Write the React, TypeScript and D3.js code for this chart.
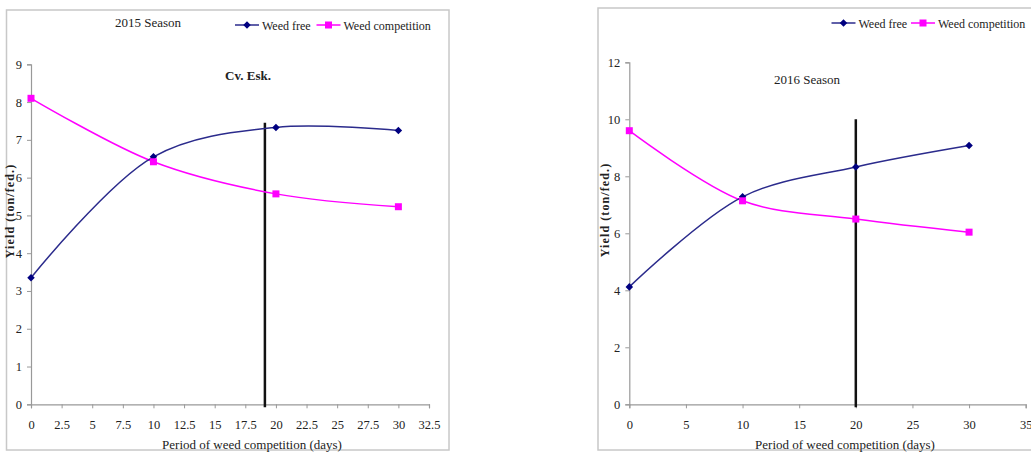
import React, { useEffect, useRef } from "react";
import * as d3 from "d3";

// days of weed competition
const days = [0, 10, 20, 30];

// 2015 season yields (ton/fed.)
const weedFree2015 = [3.35, 6.55, 7.33, 7.25];
const weedComp2015 = [8.1, 6.42, 5.57, 5.23];
const xTicks2015 = [0, 2.5, 5, 7.5, 10, 12.5, 15, 17.5, 20, 22.5, 25, 27.5, 30, 32.5];
const yTicks2015 = [0, 1, 2, 3, 4, 5, 6, 7, 8, 9];
const critical2015 = { day: 19.1, top: 7.45 };

// 2016 season yields (ton/fed.)
const weedFree2016 = [4.12, 7.28, 8.33, 9.08];
const weedComp2016 = [9.6, 7.14, 6.5, 6.04];
const xTicks2016 = [0, 5, 10, 15, 20, 25, 30, 35];
const yTicks2016 = [0, 2, 4, 6, 8, 10, 12];
const critical2016 = { day: 20, top: 10 };

const seriesNames = ["Weed free", "Weed competition"];

const FONT = "'Liberation Serif', 'Times New Roman', serif";
const BLUE_LINE = "#2b2b8c";
const BLUE_MARK = "#000080";
const PINK = "#ff00ff";

function drawPanel(svg, cfg) {
  const g = svg.append("g");

  // chart frame
  g.append("rect")
    .attr("x", cfg.frame.x)
    .attr("y", cfg.frame.y)
    .attr("width", cfg.frame.w)
    .attr("height", cfg.frame.h)
    .attr("fill", "white")
    .attr("stroke", "#c8c8c8")
    .attr("stroke-width", 1.5);

  const x = d3.scaleLinear().domain(cfg.xDomain).range(cfg.xRange);
  const y = d3.scaleLinear().domain(cfg.yDomain).range(cfg.yRange);

  const xAxisG = g.append("g")
    .attr("transform", `translate(0,${cfg.yRange[0]})`)
    .call(d3.axisBottom(x).tickValues(cfg.xTicks).tickSize(4).tickPadding(12).tickFormat(d3.format("")));
  const yAxisG = g.append("g")
    .attr("transform", `translate(${cfg.xRange[0]},0)`)
    .call(d3.axisLeft(y).tickValues(cfg.yTicks).tickSize(4).tickPadding(5).tickFormat(d3.format("")));

  [xAxisG, yAxisG].forEach((a) => {
    a.select(".domain").attr("stroke", "#999").attr("stroke-width", 1.2);
    a.selectAll(".tick line").attr("stroke", "#999");
    a.selectAll(".tick text")
      .attr("fill", "#222")
      .style("font-family", FONT)
      .style("font-size", "12.5px");
  });

  // axis titles
  g.append("text")
    .attr("x", cfg.xTitle[0])
    .attr("y", cfg.xTitle[1])
    .attr("text-anchor", "middle")
    .style("font-family", FONT)
    .style("font-size", "13px")
    .attr("fill", "#222")
    .text("Period of weed competition (days)");
  g.append("text")
    .attr("transform", `translate(${cfg.yTitle[0]},${cfg.yTitle[1]}) rotate(-90)`)
    .attr("text-anchor", "middle")
    .style("font-family", FONT)
    .style("font-size", "12px")
    .style("font-weight", "bold")
    .style("letter-spacing", "1.1px")
    .attr("fill", "#222")
    .text("Yield (ton/fed.)");

  // critical period line
  g.append("line")
    .attr("x1", x(cfg.critical.day))
    .attr("x2", x(cfg.critical.day))
    .attr("y1", y(0) + 3)
    .attr("y2", y(cfg.critical.top))
    .attr("stroke", "#111")
    .attr("stroke-width", 2.5);

  const line = d3.line()
    .x((d) => x(d[0]))
    .y((d) => y(d[1]))
    .curve(d3.curveCatmullRom.alpha(0.5));

  const freePts = days.map((d, i) => [d, cfg.free[i]]);
  const compPts = days.map((d, i) => [d, cfg.comp[i]]);

  g.append("path").datum(compPts).attr("d", line)
    .attr("fill", "none").attr("stroke", PINK).attr("stroke-width", 1.5);
  g.append("path").datum(freePts).attr("d", line)
    .attr("fill", "none").attr("stroke", BLUE_LINE).attr("stroke-width", 1.5);

  const diamond = d3.symbol().type(d3.symbolDiamond2 || d3.symbolDiamond).size(36);
  g.selectAll(".free-pt").data(freePts).enter().append("path")
    .attr("transform", (d) => `translate(${x(d[0])},${y(d[1])})`)
    .attr("d", diamond)
    .attr("fill", BLUE_MARK);
  g.selectAll(".comp-pt").data(compPts).enter().append("rect")
    .attr("x", (d) => x(d[0]) - 3.5)
    .attr("y", (d) => y(d[1]) - 3.5)
    .attr("width", 7)
    .attr("height", 7)
    .attr("fill", PINK);

  // legend
  const lg = g.append("g");
  const colors = [BLUE_LINE, PINK];
  cfg.legend.forEach((lx, i) => {
    const ly = cfg.legendY;
    lg.append("line")
      .attr("x1", lx).attr("x2", lx + 24).attr("y1", ly).attr("y2", ly)
      .attr("stroke", colors[i]).attr("stroke-width", 1.5);
    if (i === 0) {
      lg.append("path").attr("transform", `translate(${lx + 12},${ly})`)
        .attr("d", diamond).attr("fill", BLUE_MARK);
    } else {
      lg.append("rect").attr("x", lx + 8.5).attr("y", ly - 3.5)
        .attr("width", 7).attr("height", 7).attr("fill", PINK);
    }
    lg.append("text")
      .attr("x", lx + 27)
      .attr("y", ly + 4.5)
      .style("font-family", FONT)
      .style("font-size", "12px")
      .attr("fill", "#222")
      .text(seriesNames[i]);
  });

  cfg.notes.forEach((n) => {
    g.append("text")
      .attr("x", n.x)
      .attr("y", n.y)
      .attr("text-anchor", "middle")
      .style("font-family", FONT)
      .style("font-size", "13px")
      .style("font-weight", n.bold ? "bold" : "normal")
      .attr("fill", "#222")
      .text(n.text);
  });
}

export default function App() {
  const ref = useRef(null);

  useEffect(() => {
    const svg = d3.select(ref.current);
    svg.selectAll("*").remove();

    drawPanel(svg, {
      frame: { x: 6.5, y: 10, w: 442.5, h: 440 },
      xDomain: [0, 32.5],
      xRange: [31, 429],
      yDomain: [0, 9],
      yRange: [404.3, 64.3],
      xTicks: xTicks2015,
      yTicks: yTicks2015,
      free: weedFree2015,
      comp: weedComp2015,
      critical: critical2015,
      xTitle: [252, 449],
      yTitle: [14, 211],
      legend: [235, 316.5],
      legendY: 25,
      notes: [
        { text: "2015 Season", x: 148, y: 27, bold: false },
        { text: "Cv. Esk.", x: 248, y: 80, bold: true },
      ],
    });

    drawPanel(svg, {
      frame: { x: 598, y: 8, w: 440, h: 442 },
      xDomain: [0, 35],
      xRange: [629.3, 1025.7],
      yDomain: [0, 12],
      yRange: [404.3, 62.3],
      xTicks: xTicks2016,
      yTicks: yTicks2016,
      free: weedFree2016,
      comp: weedComp2016,
      critical: critical2016,
      xTitle: [845, 449],
      yTitle: [609, 210],
      legend: [831.5, 911],
      legendY: 23,
      notes: [{ text: "2016 Season", x: 807, y: 84, bold: false }],
    });
  }, []);

  return (
    <svg
      ref={ref}
      width={1031}
      height={453}
      style={{ position: "absolute", left: 0, top: 0, background: "white" }}
    />
  );
}
